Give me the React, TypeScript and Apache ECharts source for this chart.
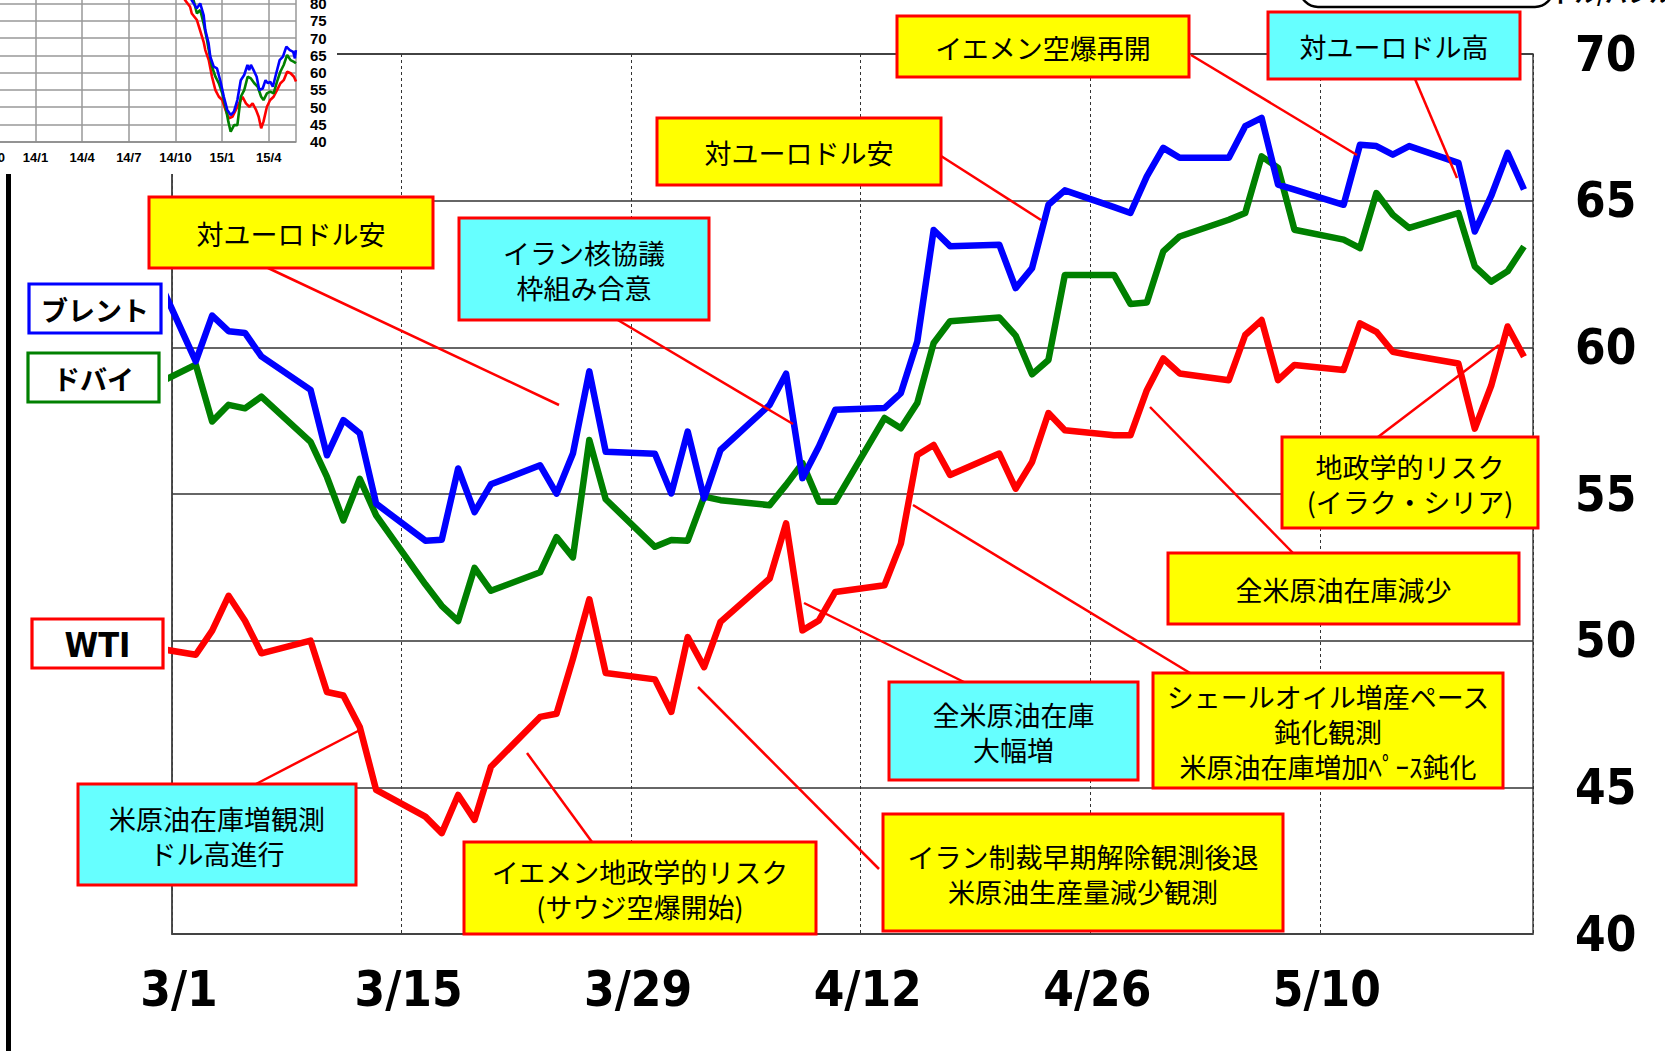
import { useEffect, useRef } from 'react';
import * as echarts from 'echarts';

// ---------------- main chart data (2015, US$/bbl) ----------------
const tradingDates = [
  '2/27',
  '3/2', '3/3', '3/4', '3/5', '3/6',
  '3/9', '3/10', '3/11', '3/12', '3/13',
  '3/16', '3/17', '3/18', '3/19', '3/20',
  '3/23', '3/24', '3/25', '3/26', '3/27',
  '3/30', '3/31', '4/1', '4/2', '4/3',
  '4/6', '4/7', '4/8', '4/9', '4/10',
  '4/13', '4/14', '4/15', '4/16', '4/17',
  '4/20', '4/21', '4/22', '4/23', '4/24',
  '4/27', '4/28', '4/29', '4/30', '5/1',
  '5/4', '5/5', '5/6', '5/7', '5/8',
  '5/11', '5/12', '5/13', '5/14', '5/15',
  '5/18', '5/19', '5/20', '5/21', '5/22',
];

const brent = [
  63.2,
  59.52, 61.08, 60.55, 60.49, 59.69,
  58.55, 56.32, 57.52, 57.07, 54.67,
  53.41, 53.44, 55.87, 54.38, 55.33,
  55.98, 55.01, 56.38, 59.18, 56.44,
  56.37, 55.02, 57.13, 54.85, 56.5,
  58.04, 59.1, 55.54, 56.62, 57.87,
  57.93, 58.44, 60.2, 64.0, 63.45,
  63.5, 62.02, 62.7, 64.86, 65.35,
  64.78, 64.58, 65.83, 66.8, 66.46,
  66.46, 67.54, 67.82, 65.55, 65.38,
  64.86, 66.91, 66.86, 66.57, 66.86,
  66.29, 63.95, 65.16, 66.63, 65.38,
];

const dubai = [
  58.58,
  59.41, 57.47, 58.04, 57.92, 58.32,
  56.78, 55.58, 54.1, 55.52, 54.27,
  51.92, 51.19, 50.67, 52.48, 51.7,
  52.33, 53.53, 52.84, 56.84, 54.82,
  53.2, 53.43, 53.41, 54.91, 54.79,
  54.62, 55.31, 56.05, 54.74, 54.74,
  57.59, 57.24, 58.1, 60.15, 60.89,
  61.02, 60.4, 59.08, 59.57, 62.47,
  62.47, 61.48, 61.53, 63.27, 63.78,
  64.35, 64.58, 66.51, 66.12, 64.01,
  63.67, 63.38, 65.26, 64.52, 64.07,
  64.58, 62.76, 62.24, 62.59, 63.44,
];

const wti = [
  49.8,
  49.52, 50.34, 51.53, 50.68, 49.57,
  50.0, 48.25, 48.13, 47.06, 44.91,
  44.0, 43.44, 44.74, 43.89, 45.7,
  47.4, 47.51, 49.38, 51.41, 48.9,
  48.68, 47.57, 50.12, 49.1, 50.64,
  52.12, 54.0, 50.35, 50.69, 51.66,
  51.89, 53.31, 56.33, 56.67, 55.65,
  56.38, 55.18, 56.09, 57.76, 57.17,
  57.0, 57.0, 58.54, 59.62, 59.11,
  58.88, 60.42, 60.93, 58.88, 59.4,
  59.23, 60.82, 60.53, 59.85, 59.74,
  59.45, 57.23, 58.69, 60.71, 59.68,
];

const xTickLabels = ['3/1', '3/15', '3/29', '4/12', '4/26', '5/10'];

// ---------------- inset (long-term) data: [months since 2013/10, value] ----------------
const insetTickLabels = ['13/10', '14/1', '14/4', '14/7', '14/10', '15/1', '15/4'];

const insetBrent = [
  [12.3, 92], [12.8, 86], [13.04, 80.98], [13.37, 78.57], [13.59, 80.02], [13.81, 76.65],
  [13.92, 72.3], [14.13, 68.45], [14.24, 64.6], [14.46, 61.7], [14.67, 61.2], [14.9, 57.35],
  [15.11, 53.0], [15.33, 49.2], [15.55, 47.7], [15.76, 48.7], [15.98, 52.05], [16.2, 57.8],
  [16.42, 59.3], [16.63, 62.2], [16.74, 60.7], [16.85, 62.2], [17.07, 60.25], [17.22, 58.8],
  [17.39, 54.95], [17.61, 55.4], [17.79, 57.8], [17.94, 56.9], [18.09, 57.35], [18.26, 55.9],
  [18.48, 59.8], [18.7, 63.6], [18.91, 64.6], [19.13, 67.5], [19.35, 66.5], [19.57, 66.0],
  [19.68, 64.1], [19.74, 66.5],
];

const insetDubai = [
  [12.4, 90], [12.9, 84], [13.16, 81], [13.38, 77.1], [13.59, 78.1], [13.81, 74.2],
  [14.03, 69.4], [14.14, 66.5], [14.35, 61.7], [14.57, 58.8], [14.79, 56.9], [15.01, 54.0],
  [15.22, 50.1], [15.4, 45.8], [15.55, 42.9], [15.77, 44.8], [15.98, 44.8], [16.2, 53.0],
  [16.42, 54.9], [16.64, 58.8], [16.85, 58.3], [17.07, 56.9], [17.29, 55.9], [17.51, 53.0],
  [17.66, 52.05], [17.88, 54.0], [18.09, 54.5], [18.31, 54.0], [18.53, 57.4], [18.75, 60.3],
  [18.96, 62.2], [19.18, 65.1], [19.4, 63.6], [19.62, 63.1], [19.75, 62.7],
];

const insetWti = [
  [12.0, 90], [12.61, 81], [12.94, 79.05], [13.05, 77.1], [13.38, 75.2], [13.81, 68.9],
  [13.92, 66.5], [14.14, 63.6], [14.35, 58.8], [14.57, 54.9], [14.79, 53.0], [15.01, 52.05],
  [15.22, 49.2], [15.44, 46.8], [15.66, 47.2], [15.88, 49.2], [16.09, 51.1], [16.31, 53.0],
  [16.53, 51.1], [16.75, 50.1], [16.96, 51.1], [17.18, 49.2], [17.35, 47.2], [17.51, 43.9],
  [17.66, 45.8], [17.88, 50.1], [18.09, 52.05], [18.31, 53.0], [18.53, 54.9], [18.75, 56.9],
  [18.96, 57.8], [19.18, 60.25], [19.4, 59.8], [19.62, 58.8], [19.75, 57.4],
];

// ---------------- annotations ----------------
const YEL = '#FFFF00';
const CYAN = '#66FFFF';

const annotations = [
  { text: 'イエメン空爆再開', fill: YEL, x: 897, y: 16, w: 292, h: 61 },
  { text: '対ユーロドル高', fill: CYAN, x: 1268, y: 12, w: 252, h: 67 },
  { text: '対ユーロドル安', fill: YEL, x: 657, y: 118, w: 284, h: 67 },
  { text: '対ユーロドル安', fill: YEL, x: 149, y: 197, w: 284, h: 71 },
  { text: 'イラン核協議\n枠組み合意', fill: CYAN, x: 459, y: 218, w: 250, h: 102 },
  { text: '地政学的リスク\n(イラク・シリア)', fill: YEL, x: 1282, y: 437, w: 256, h: 91 },
  { text: '全米原油在庫減少', fill: YEL, x: 1168, y: 553, w: 351, h: 71 },
  { text: 'シェールオイル増産ペース\n鈍化観測\n米原油在庫増加ﾍﾟｰｽ鈍化', fill: YEL, x: 1153, y: 673, w: 350, h: 115 },
  { text: '全米原油在庫\n大幅増', fill: CYAN, x: 889, y: 682, w: 249, h: 98 },
  { text: '米原油在庫増観測\nドル高進行', fill: CYAN, x: 78, y: 784, w: 278, h: 101 },
  { text: 'イエメン地政学的リスク\n(サウジ空爆開始)', fill: YEL, x: 464, y: 842, w: 352, h: 92 },
  { text: 'イラン制裁早期解除観測後退\n米原油生産量減少観測', fill: YEL, x: 883, y: 814, w: 400, h: 117 },
];

const leaders = [
  [1191, 55, 1357, 155],
  [1415, 79, 1457, 178],
  [941, 156, 1041, 220],
  [268, 268, 559, 405],
  [606, 313, 793, 424],
  [1378, 437, 1499, 345],
  [1293, 553, 1150, 407],
  [1190, 673, 913, 505],
  [964, 682, 804, 603],
  [256, 784, 360, 730],
  [592, 842, 527, 753],
  [879, 869, 698, 687],
];

const legendBoxes = [
  { text: 'ブレント', stroke: '#0000FF', x: 29, y: 284, w: 132, h: 49, latin: false },
  { text: 'ドバイ', stroke: '#008000', x: 28, y: 353, w: 131, h: 49, latin: false },
  { text: 'WTI', stroke: '#FF0000', x: 32, y: 619, w: 131, h: 49, latin: true },
];

const JP_FONT = "'Noto Sans CJK JP', 'Noto Sans CJK SC', sans-serif";
const NUM_FONT = "'Liberation Sans Narrow', 'DejaVu Sans Condensed', 'Liberation Sans', sans-serif";

function dayPos(md: string): number {
  const [m, d] = md.split('/').map(Number);
  const monthStart: Record<number, number> = { 2: -28, 3: 0, 4: 31, 5: 61 };
  // trading-day points are centred within their day
  return monthStart[m] + d - 1 + 0.45;
}

function toPairs(vals: number[]) {
  return vals.map((v, i) => [dayPos(tradingDates[i]), v]);
}

export default function App() {
  const ref = useRef<HTMLDivElement>(null);

  useEffect(() => {
    if (!ref.current) return;
    const chart = echarts.init(ref.current, undefined, { renderer: 'svg' });

    const graphics: any[] = [];
    // cover for the inset area
    graphics.push({
      type: 'rect', z: 50,
      shape: { x: 0, y: 0, width: 337, height: 174 },
      style: { fill: '#ffffff' },
    });
    // thick left bar
    graphics.push({
      type: 'rect', z: 100,
      shape: { x: 6, y: 174, width: 5, height: 900 },
      style: { fill: '#000000' },
    });
    // cut-off rounded frame at top right
    graphics.push({
      type: 'rect', z: 100,
      shape: { x: 1300, y: -60, width: 253, height: 67, r: 18 },
      style: { fill: '#ffffff', stroke: '#000000', lineWidth: 2.5 },
    });
    graphics.push({
      type: 'text', z: 100,
      style: {
        text: 'ドル/バレル', x: 1612, y: 3, align: 'center', verticalAlign: 'bottom',
        fontSize: 22, fontFamily: JP_FONT, fontWeight: 'bold', fill: '#000',
      },
    });
    leaders.forEach(([x1, y1, x2, y2]) => {
      graphics.push({
        type: 'line', z: 90,
        shape: { x1, y1, x2, y2 },
        style: { stroke: '#FF0000', lineWidth: 2.5 },
      });
    });
    annotations.forEach((a) => {
      graphics.push({
        type: 'rect', z: 100,
        shape: { x: a.x, y: a.y, width: a.w, height: a.h },
        style: { fill: a.fill, stroke: '#FF0000', lineWidth: 3 },
      });
      graphics.push({
        type: 'text', z: 101,
        style: {
          text: a.text, x: a.x + a.w / 2, y: a.y + a.h / 2 + 1,
          align: 'center', verticalAlign: 'middle',
          fontSize: 27, lineHeight: 35, fontFamily: JP_FONT, fill: '#000',
        },
      });
    });
    legendBoxes.forEach((b) => {
      graphics.push({
        type: 'rect', z: 100,
        shape: { x: b.x, y: b.y, width: b.w, height: b.h },
        style: { fill: '#ffffff', stroke: b.stroke, lineWidth: 3.2 },
      });
      graphics.push({
        type: 'text', z: 101,
        style: {
          text: b.text, x: b.x + b.w / 2, y: b.y + b.h / 2 + 1,
          align: 'center', verticalAlign: 'middle',
          fontSize: b.latin ? 34 : 27, fontWeight: 'bold',
          fontFamily: b.latin ? NUM_FONT : JP_FONT, fill: '#000',
        },
      });
    });

    const mainLine = (name: string, vals: number[], color: string) => ({
      name, type: 'line', xAxisIndex: 0, yAxisIndex: 0,
      data: toPairs(vals), showSymbol: false, symbol: 'none', clip: true, z: 3,
      lineStyle: { color, width: 6.5, join: 'round' },
    });
    const insetLine = (name: string, data: number[][], color: string) => ({
      name, type: 'line', xAxisIndex: 1, yAxisIndex: 1,
      data, showSymbol: false, symbol: 'none', clip: true, z: 61,
      lineStyle: { color, width: 2.6 },
    });

    chart.setOption({
      animation: false,
      backgroundColor: '#ffffff',
      grid: [
        {
          left: 172, right: 132, top: 54, bottom: 117, outerBoundsMode: 'none',
          show: true, borderColor: '#444', borderWidth: 1.5, backgroundColor: 'transparent',
        },
        {
          left: -11.2, width: 307.2, top: -65.7, height: 207.4, show: false, outerBoundsMode: 'none',
        },
      ],
      xAxis: [
        {
          type: 'value', gridIndex: 0, min: 0, max: 83, interval: 14,
          axisLine: { show: true, lineStyle: { color: '#444', width: 1.5 } },
          axisTick: { show: false },
          splitLine: { show: true, lineStyle: { color: '#333', width: 1, type: [3, 3] } },
          axisLabel: {
            margin: 31, fontSize: 49, fontWeight: 'bold', fontFamily: NUM_FONT, color: '#000',
            padding: [0, 0, 0, 14],
            formatter: (v: number) => (v % 14 === 0 && v / 14 < xTickLabels.length ? xTickLabels[v / 14] : ''),
          },
        },
        {
          type: 'value', gridIndex: 1, min: 0, max: 19.75, interval: 3, z: 60,
          axisLine: { show: true, lineStyle: { color: '#888', width: 1.5 } },
          axisTick: { show: false },
          splitLine: { show: true, lineStyle: { color: '#999', width: 1.5 } },
          axisLabel: {
            margin: 9, fontSize: 13, fontWeight: 'bold', fontFamily: "'Liberation Sans', sans-serif", color: '#000',
            formatter: (v: number) => (v % 3 === 0 && v / 3 < insetTickLabels.length ? insetTickLabels[v / 3] : ''),
          },
        },
      ],
      yAxis: [
        {
          type: 'value', gridIndex: 0, min: 40, max: 70, interval: 5, position: 'right',
          axisLine: { show: true, lineStyle: { color: '#444', width: 1.5 } },
          axisTick: { show: false },
          splitLine: { show: true, lineStyle: { color: '#333', width: 1.5 } },
          axisLabel: {
            margin: 42, fontSize: 49, fontWeight: 'bold', fontFamily: NUM_FONT, color: '#000',
          },
        },
        {
          type: 'value', gridIndex: 1, min: 40, max: 100, interval: 5, position: 'right', z: 60,
          axisLine: { show: true, lineStyle: { color: '#888', width: 1.5 } },
          axisTick: { show: false },
          splitLine: { show: true, lineStyle: { color: '#999', width: 1.5 } },
          axisLabel: {
            margin: 14, fontSize: 15, fontWeight: 'bold', fontFamily: "'Liberation Sans', sans-serif", color: '#000',
            formatter: (v: number) => (v <= 80 ? String(v) : ''),
          },
        },
      ],
      series: [
        mainLine('ドバイ', dubai, '#008000'),
        mainLine('WTI', wti, '#FF0000'),
        mainLine('ブレント', brent, '#0000FF'),
        insetLine('WTI(長期)', insetWti, '#FF0000'),
        insetLine('ドバイ(長期)', insetDubai, '#008000'),
        insetLine('ブレント(長期)', insetBrent, '#0000FF'),
      ],
      graphic: { elements: graphics },
    });

    return () => chart.dispose();
  }, []);

  return (
    <div
      ref={ref}
      style={{ position: 'fixed', left: 0, top: 0, width: 1665, height: 1051, background: '#fff' }}
    />
  );
}
